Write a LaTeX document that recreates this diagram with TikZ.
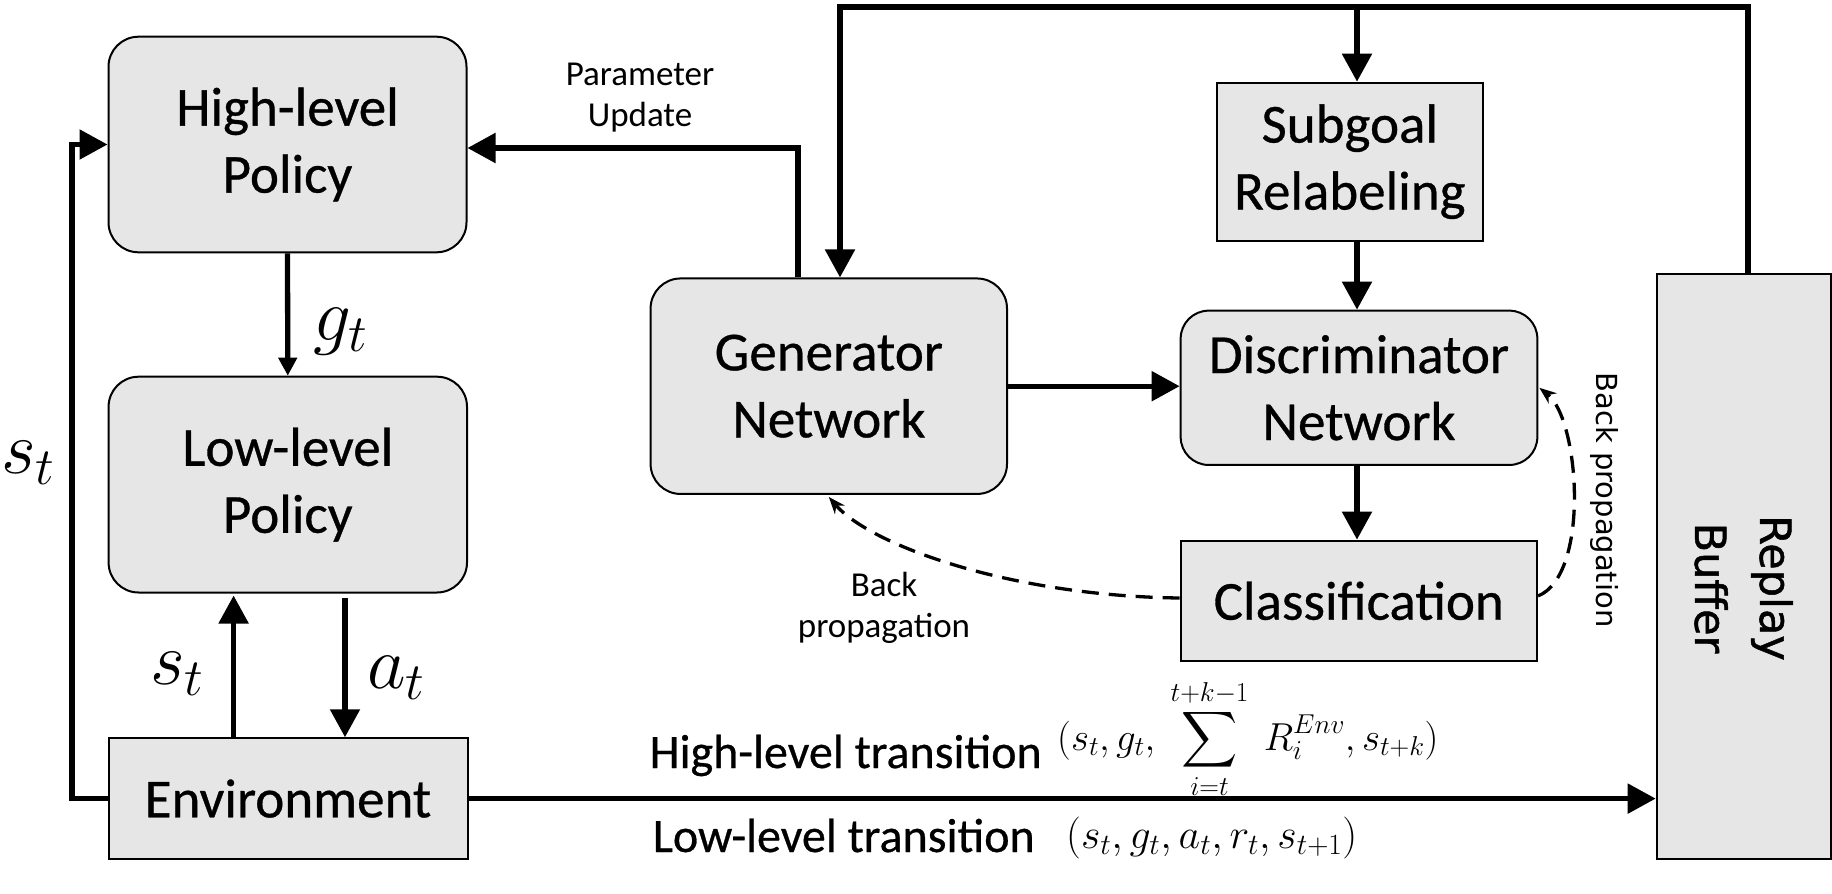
\RequirePackage{fix-cm}
\documentclass[tikz,border=0pt]{standalone}
\usepackage{amsmath}
\usepackage[no-math]{fontspec}
\DeclareFontShape{OMX}{cmex}{m}{n}{<->cmex10}{}
\setmainfont{Carlito}
\newfontfamily\boxfam{Carlito}[FakeBold=0.6]
\newfontfamily\dejavu{DejaVu Sans}
\newfontfamily\dejavub{DejaVu Sans}[FakeBold=1.2]
\usetikzlibrary{arrows.meta}
\definecolor{boxfill}{RGB}{230,230,230}
\newcommand\boxfont{\boxfam\fontsize{55}{67}\selectfont}
\newcommand\smallfont{\fontsize{35}{41}\selectfont}
\newcommand\transfont{\boxfam\fontsize{48}{58}\selectfont}
\newcommand\bigmath{\fontsize{75}{90}\selectfont}
\tikzset{
  boxbase/.style={draw, line width=2pt, fill=boxfill, inner sep=0pt, align=center, font=\boxfont},
  rbox/.style={boxbase, rounded corners=30pt},
  sbox/.style={boxbase},
  conn/.style={line width=5.3pt, -{Triangle[length=28pt,width=29pt]}},
  smallconn/.style={line width=5.3pt, -{Triangle[length=18pt,width=18pt]}},
  dconn/.style={line width=3.3pt, dash pattern=on 17pt off 10pt, -{Stealth[length=17pt,width=13pt]}},
  lbl/.style={inner sep=0pt, align=center},
  mlbl/.style={inner sep=0pt, anchor=base west, font=\bigmath},
}
\begin{document}
\begin{tikzpicture}[x=1pt,y=-1pt]
\useasboundingbox (0,0) rectangle (1832,894);

% boxes
\node[rbox, minimum width=358pt, minimum height=215.6pt] (hl) at (287.5,144.5) {High-level\\Policy};
\node[rbox, minimum width=358.4pt, minimum height=215.8pt] (ll) at (287.8,484.6) {Low-level\\Policy};
\node[sbox, minimum width=359pt, minimum height=120.7pt] (env) at (288,798.6) {Environment};
\node[rbox, minimum width=356.4pt, minimum height=215.5pt] (gen) at (828.8,386.2) {Generator\\Network};
\node[sbox, minimum width=265.6pt, minimum height=158pt] (sg) at (1349.8,161.7) {Subgoal\\Relabeling};
\node[rbox, rounded corners=28pt, minimum width=356.7pt, minimum height=154.3pt] (disc) at (1359,387.8) {Discriminator\\Network};
\node[sbox, minimum width=356.4pt, minimum height=120.3pt] (cls) at (1358.8,600.8) {Classification};
\node[sbox, minimum width=173.8pt, minimum height=585pt] (rb) at (1743.6,566.5) {};
\node[lbl, rotate=-90, font=\dejavub\fontsize{43}{65}\selectfont] (rbt) at (1743.6,588) {Replay\\Buffer};

% left column connectors
\draw[smallconn] (hl.south) -- (ll.north);
\draw[conn] ([xshift=-54.4pt]env.north) -- ([xshift=-54.2pt,yshift=-2pt]ll.south);
\draw[conn] ([xshift=57.2pt,yshift=-4.5pt]ll.south) -- ([xshift=57pt]env.north);
\draw[conn] (env.west) -- ++(-35.6,0) |- (hl.west);
\draw[conn] (env.east) -- (env.east -| rb.west);

% parameter update
\draw[conn] ([xshift=-30.8pt]gen.north) |- ([yshift=-3.5pt]hl.east);

% top loop
\coordinate (tl) at (840,7);
\coordinate (colx) at (1357,7);
\draw[conn] ([xshift=4.4pt]rb.north) |- (tl) -- (tl |- gen.north);
\draw[conn] (colx) -- (colx |- sg.north);
\draw[conn] (colx |- sg.south) -- (colx |- disc.north);
\draw[conn] (colx |- disc.south) -- (colx |- cls.north);
\draw[conn] (gen.east) -- (gen.east -| disc.west);

% dashed back-propagation
\draw[dconn] ([yshift=2.8pt]cls.west) .. controls (1010,596) and (870,545) .. ([yshift=-2pt]gen.south);
\draw[dconn] ([yshift=4.8pt]cls.east) .. controls (1590,575) and (1580,420) .. ([xshift=1pt]disc.east);

% labels
\node[lbl, font=\smallfont] (pu) at (640,98) {Parameter\\Update};
\node[lbl, font=\smallfont] (bp1) at (884,608) {Back\\propagation};
\node[lbl, rotate=-90, font=\dejavu\fontsize{29}{34}\selectfont] (bp2) at (1604,500) {Back propagation};

\node[mlbl] (gt) at (313,340) {$g_t$};
\node[mlbl] (st1) at (150,684) {$s_t$};
\node[mlbl] (at) at (367,688) {$a_t$};
\node[mlbl] (st2) at (1,473) {$s_t$};

\node[inner sep=0pt, anchor=base east, font=\transfont] (hlt) at (1042,768) {High-level transition};
\node[inner sep=0pt, anchor=base west, font=\fontsize{39}{47}\selectfont] (hlf) at (1057,750)
  {$\displaystyle (s_t, g_t,\ \sum_{i=t}^{t+k-1}\ R_i^{Env}, s_{t+k})$};
\node[inner sep=0pt, anchor=base east, font=\transfont] (llt) at (1035,852) {Low-level transition};
\node[inner sep=0pt, anchor=base west, font=\fontsize{42}{50}\selectfont] (llf) at (1066,848)
  {$(s_t, g_t, a_t, r_t, s_{t+1})$};
\end{tikzpicture}
\end{document}
